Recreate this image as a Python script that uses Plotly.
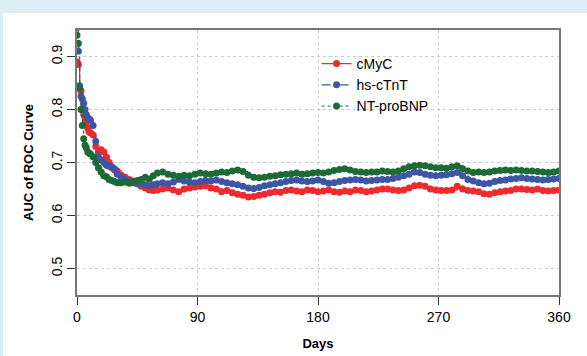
import plotly.graph_objects as go

days = [0,1,2,3,4,5,6,7,8,9,10,12,14,16,18,20,22,24,26,28,30,33,36,39,42,45,48,51,54,57,60,
        64,68,72,76,80,84,88,92,96,100,104,108,112,116,120,124,128,132,136,140,144,148,152,156,160,
        164,168,172,176,180,184,188,192,196,200,204,208,212,216,220,224,228,232,236,240,244,248,252,
        256,260,264,268,272,276,280,284,288,292,296,300,304,308,312,316,320,324,328,332,336,340,344,
        348,352,356,360]

cmyc = [0.89,0.885,0.84,0.835,0.80,0.79,0.784,0.775,0.765,0.758,0.756,0.752,0.73,0.72,0.724,0.72,
        0.71,0.70,0.69,0.686,0.684,0.676,0.672,0.668,0.665,0.66,0.655,0.652,0.648,0.647,0.648,
        0.650,0.652,0.648,0.645,0.650,0.652,0.654,0.655,0.656,0.652,0.650,0.645,0.647,0.643,0.640,
        0.638,0.635,0.636,0.638,0.640,0.643,0.645,0.644,0.647,0.648,0.646,0.645,0.648,0.647,0.645,
        0.646,0.648,0.645,0.644,0.646,0.645,0.648,0.647,0.645,0.646,0.648,0.650,0.650,0.648,0.647,
        0.648,0.652,0.656,0.657,0.655,0.650,0.648,0.647,0.647,0.648,0.655,0.650,0.647,0.646,0.645,
        0.641,0.640,0.643,0.645,0.646,0.647,0.650,0.650,0.649,0.648,0.650,0.647,0.646,0.647,0.648]

hsctnt = [0.955,0.91,0.845,0.825,0.82,0.812,0.80,0.79,0.785,0.782,0.78,0.77,0.74,0.71,0.705,0.70,
          0.695,0.693,0.692,0.688,0.678,0.672,0.668,0.665,0.662,0.66,0.66,0.658,0.656,0.658,0.660,
          0.662,0.660,0.663,0.668,0.665,0.663,0.662,0.664,0.666,0.665,0.667,0.664,0.662,0.660,0.658,
          0.655,0.652,0.651,0.653,0.656,0.658,0.660,0.662,0.664,0.666,0.667,0.665,0.664,0.665,0.667,
          0.664,0.661,0.662,0.664,0.666,0.667,0.668,0.667,0.665,0.666,0.667,0.668,0.668,0.670,0.672,
          0.675,0.678,0.682,0.681,0.678,0.676,0.675,0.676,0.677,0.679,0.681,0.675,0.668,0.665,0.662,
          0.660,0.661,0.664,0.666,0.667,0.669,0.670,0.671,0.670,0.669,0.668,0.667,0.668,0.669,0.670]

ntprobnp = [0.94,0.925,0.84,0.80,0.77,0.745,0.733,0.728,0.72,0.718,0.716,0.711,0.70,0.69,0.682,0.675,
            0.673,0.668,0.666,0.664,0.662,0.662,0.663,0.661,0.663,0.666,0.668,0.672,0.669,0.675,0.680,
            0.682,0.678,0.676,0.674,0.676,0.675,0.678,0.680,0.679,0.678,0.680,0.682,0.681,0.684,0.686,
            0.683,0.676,0.672,0.671,0.672,0.674,0.675,0.677,0.678,0.679,0.680,0.678,0.679,0.680,0.681,
            0.680,0.682,0.685,0.687,0.688,0.686,0.683,0.682,0.681,0.682,0.682,0.684,0.683,0.682,0.684,
            0.688,0.692,0.694,0.695,0.694,0.692,0.690,0.690,0.689,0.692,0.694,0.688,0.684,0.681,0.682,
            0.681,0.682,0.684,0.685,0.686,0.685,0.686,0.685,0.684,0.684,0.683,0.682,0.681,0.682,0.684]

x_ticks = [0, 90, 180, 270, 360]
y_ticks = [0.5, 0.6, 0.7, 0.8, 0.9]

series = [
    ("cMyC", cmyc, "#EE2A2E", "solid"),
    ("hs-cTnT", hsctnt, "#3D55A6", "dash"),
    ("NT-proBNP", ntprobnp, "#1C6B35", "dot"),
]

fig = go.Figure()
for name, vals, col, dash in series:
    fig.add_trace(go.Scatter(
        x=days, y=vals, name=name, mode="lines+markers",
        line=dict(color=col, width=1.2, dash=dash, shape="hv"),
        marker=dict(color=col, size=7, line=dict(width=0)),
    ))

strip = "#DCEEF3"
font = "Liberation Sans, Arial, Helvetica, sans-serif"
fig.update_layout(
    width=587, height=356,
    paper_bgcolor="white", plot_bgcolor="white",
    margin=dict(l=77, r=28, t=30, b=61, autoexpand=False),
    font=dict(family=font, size=14, color="black"),
    showlegend=True,
    legend=dict(x=0.497, y=0.932, xanchor="left", yanchor="top",
                bgcolor="rgba(0,0,0,0)", font=dict(size=14, family=font),
                tracegroupgap=0, itemwidth=30),
    shapes=[
        dict(type="rect", xref="paper", yref="paper",
             x0=-0.2, x1=1.1, y0=(295-13)/265, y1=(295)/265 + 0.01,
             fillcolor=strip, line=dict(width=0), layer="below"),
        dict(type="rect", xref="paper", yref="paper",
             x0=-0.2, x1=(3-77)/482, y0=-0.3, y1=1.2,
             fillcolor=strip, line=dict(width=0), layer="below"),
    ],
)
fig.update_xaxes(
    range=[0, 360], tickmode="array", tickvals=x_ticks,
    ticktext=[str(v) for v in x_ticks], automargin=False,
    showline=True, linecolor="#777777", linewidth=1.5, mirror=True,
    ticks="outside", ticklen=8, tickcolor="#333333", tickwidth=1,
    showgrid=True, gridcolor="#CCCCCC", griddash="dot", gridwidth=1,
    zeroline=False, tickfont=dict(size=14),
    title=dict(text="<b>Days</b>", font=dict(size=13, family=font), standoff=15),
)
fig.update_yaxes(
    range=[0.45, 0.95], tickmode="array", tickvals=y_ticks,
    ticktext=[f"{v:.1f}" for v in y_ticks], tickangle=-90, automargin=False,
    showline=True, linecolor="#777777", linewidth=1.5, mirror=True,
    ticks="outside", ticklen=8, tickcolor="#333333", tickwidth=1,
    showgrid=True, gridcolor="#CCCCCC", griddash="dot", gridwidth=1,
    zeroline=False, tickfont=dict(size=14),
    title=dict(text="<b>AUC of ROC Curve</b>", font=dict(size=13, family=font), standoff=12),
)

fig.write_html(
    "out.html",
    config={"displayModeBar": False},
    post_script="document.body.style.margin='0';document.body.style.background='white';",
)
